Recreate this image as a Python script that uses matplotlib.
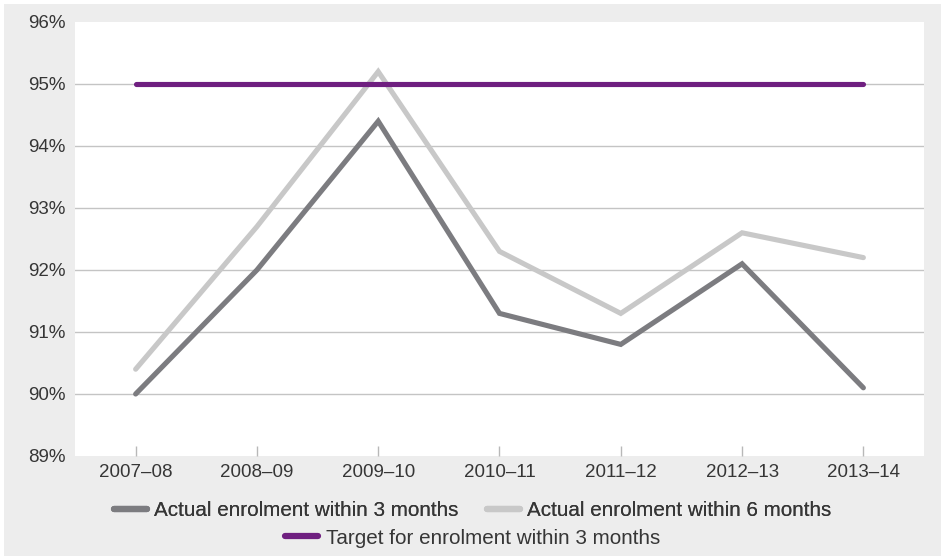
import matplotlib.pyplot as plt
from matplotlib.patches import Rectangle
from matplotlib.lines import Line2D

plt.rcParams['font.family'] = ['Liberation Sans', 'DejaVu Sans']

years = ['2007–08', '2008–09', '2009–10', '2010–11', '2011–12', '2012–13', '2013–14']
within_3 = [90.0, 92.0, 94.4, 91.3, 90.8, 92.1, 90.1]
within_6 = [90.4, 92.7, 95.2, 92.3, 91.3, 92.6, 92.2]
target_3 = [95, 95, 95, 95, 95, 95, 95]

labels = ['Actual enrolment within 3 months',
          'Actual enrolment within 6 months',
          'Target for enrolment within 3 months']
couleurs = ['#7c7c80', '#c8c8c8', '#6f1f80']
texte = '#363636'

fig = plt.figure(figsize=(9.45, 5.6), dpi=100, facecolor='white')
fig.patches.append(Rectangle((4 / 945, 4 / 560), 937 / 945, 552 / 560,
                             transform=fig.transFigure, facecolor='#ededed',
                             edgecolor='none', zorder=-10))

ax = fig.add_axes([75 / 945, 1 - 456 / 560, 849 / 945, 434 / 560])
ax.set_facecolor('white')

x = range(len(years))
for serie, c in zip([within_6, within_3, target_3], [couleurs[1], couleurs[0], couleurs[2]]):
    ax.plot(x, serie, color=c, linewidth=3.7, solid_capstyle='round',
            solid_joinstyle='miter', zorder=3)

ax.set_xlim(-0.5, 6.5)
ax.set_ylim(89, 96)
ax.set_yticks(range(89, 97))
ax.set_yticklabels([f'{v}%' for v in range(89, 97)])
ax.set_xticks(list(x))
ax.set_xticklabels(years)

for v in range(90, 96):
    ax.axhline(v, color='#c4c4c4', linewidth=1, zorder=1)

for s in ax.spines.values():
    s.set_visible(False)

ax.tick_params(axis='y', length=0, pad=7, labelsize=13.5, labelcolor=texte)
ax.tick_params(axis='x', direction='in', length=7.5, width=1, color='#b8b8b8',
               pad=6, labelsize=13.5, labelcolor=texte)

poignees = [Line2D([], [], color=c, linewidth=4.5, solid_capstyle='round') for c in couleurs]

leg1 = fig.legend(poignees[:2], labels[:2], loc='center', ncol=2,
                  bbox_to_anchor=(0.5, 1 - 511 / 560), frameon=False,
                  fontsize=14.9, handlelength=1.6, handletextpad=0.35,
                  columnspacing=1.35, labelcolor=texte)
leg2 = fig.legend(poignees[2:], labels[2:], loc='center', ncol=1,
                  bbox_to_anchor=(0.5, 1 - 538 / 560), frameon=False,
                  fontsize=14.9, handlelength=1.6, handletextpad=0.35,
                  labelcolor=texte)
fig.add_artist(leg1)

fig.savefig('out.png', dpi=100, facecolor=fig.get_facecolor())
